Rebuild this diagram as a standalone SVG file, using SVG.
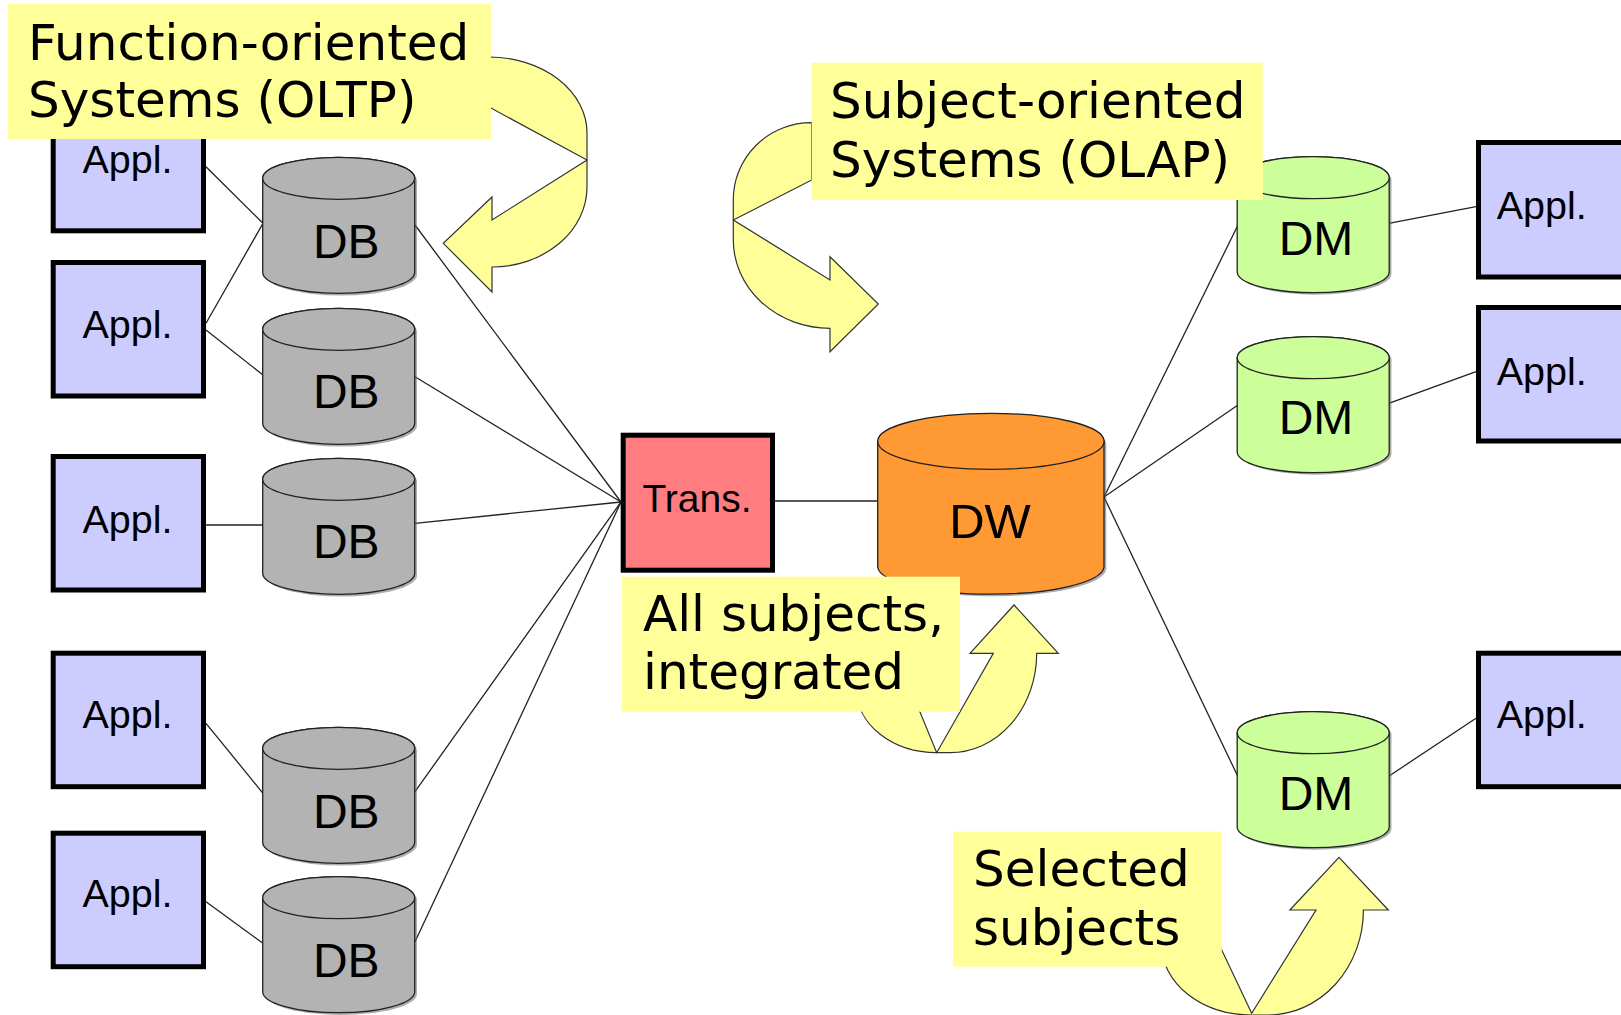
<svg xmlns="http://www.w3.org/2000/svg" xmlns:xlink="http://www.w3.org/1999/xlink" width="1621" height="1015" viewBox="0 0 1621 1015">
<style>
.appl{fill:#CCCCFF;stroke:#000;stroke-width:5}
.trans{fill:#FF7C80;stroke:#000;stroke-width:5}
.db{fill:#B3B3B3;stroke:#222;stroke-width:1.3}
.dm{fill:#CCFF99;stroke:#222;stroke-width:1.3}
.dw{fill:#FF9933;stroke:#222;stroke-width:1.3}
.shadow{fill:#6a6a6a;opacity:0.55;stroke:none}
.conn line{stroke:#222;stroke-width:1.3}
.arrow{fill:#FFFF99;stroke:#333;stroke-width:1.2;stroke-linejoin:miter}
.label{fill:#FFFF99}
.lt{font-family:"DejaVu Sans",Verdana,sans-serif;font-size:50px;fill:#000}
.at{font-family:"Liberation Sans",Arial,sans-serif;font-size:39.5px;fill:#000}
.ct{font-family:"Liberation Sans",Arial,sans-serif;font-size:48px;fill:#000;text-anchor:middle}
.tt{font-family:"Liberation Sans",Arial,sans-serif;font-size:39px;fill:#000;text-anchor:middle}
</style>
<defs>
<g id="cyl">
<path d="M0,21 V115 A76 21 0 0 0 152,115 V21 A76 21 0 0 0 0,21 Z"/>
<ellipse cx="76" cy="21" rx="76" ry="21"/>
</g>
<path id="cylshadow" d="M0,21 V115 A76 21 0 0 0 152,115 V21 A76 21 0 0 0 0,21 Z"/>
</defs>
<rect width="1621" height="1015" fill="#fff"/>

<g id="connectors" class="conn">
<line x1="206" y1="166.7" x2="263" y2="223.3"/>
<line x1="206" y1="323.3" x2="263" y2="223.3"/>
<line x1="206" y1="330" x2="263" y2="375"/>
<line x1="206" y1="525" x2="263" y2="525"/>
<line x1="206" y1="723.3" x2="263" y2="793.3"/>
<line x1="206" y1="901.7" x2="263" y2="943.3"/>
<line x1="415" y1="225" x2="621" y2="502"/>
<line x1="415" y1="376.7" x2="621" y2="502"/>
<line x1="415" y1="523.3" x2="621" y2="502"/>
<line x1="415" y1="791.7" x2="621" y2="502"/>
<line x1="415" y1="941.7" x2="621" y2="502"/>
<line x1="775" y1="501" x2="878" y2="501"/>
<line x1="1104" y1="497" x2="1238" y2="225"/>
<line x1="1104" y1="497" x2="1238" y2="405"/>
<line x1="1104" y1="497" x2="1238" y2="776.7"/>
<line x1="1388.7" y1="223.3" x2="1476" y2="206.7"/>
<line x1="1388.7" y1="403.3" x2="1476" y2="371.7"/>
<line x1="1388" y1="776.7" x2="1476" y2="718.3"/>
</g>

<g id="appl1"><rect class="appl" x="53.2" y="97.3" width="150.3" height="133.5"/><text class="at" x="82.5" y="173.3">Appl.</text></g>
<g id="appl2"><rect class="appl" x="53.2" y="262.5" width="150.3" height="133.5"/><text class="at" x="82.5" y="338.3">Appl.</text></g>
<g id="appl3"><rect class="appl" x="53.2" y="456.5" width="150.3" height="133.5"/><text class="at" x="82.5" y="533.3">Appl.</text></g>
<g id="appl4"><rect class="appl" x="53.2" y="653.2" width="150.3" height="133.5"/><text class="at" x="82.5" y="728.3">Appl.</text></g>
<g id="appl5"><rect class="appl" x="53.2" y="833.2" width="150.3" height="133.5"/><text class="at" x="82.5" y="907.3">Appl.</text></g>

<g id="db1"><use xlink:href="#cylshadow" class="shadow" transform="translate(265,159.5)"/><use xlink:href="#cyl" class="db" transform="translate(262.7,157.3)"/><text class="ct" x="346.3" y="258.3">DB</text></g>
<g id="db2"><use xlink:href="#cylshadow" class="shadow" transform="translate(265,310.5)"/><use xlink:href="#cyl" class="db" transform="translate(262.7,308.3)"/><text class="ct" x="346.3" y="408.3">DB</text></g>
<g id="db3"><use xlink:href="#cylshadow" class="shadow" transform="translate(265,460.5)"/><use xlink:href="#cyl" class="db" transform="translate(262.7,458.3)"/><text class="ct" x="346.3" y="558.3">DB</text></g>
<g id="db4"><use xlink:href="#cylshadow" class="shadow" transform="translate(265,729.5)"/><use xlink:href="#cyl" class="db" transform="translate(262.7,727.3)"/><text class="ct" x="346.3" y="828.3">DB</text></g>
<g id="db5"><use xlink:href="#cylshadow" class="shadow" transform="translate(265,878.9)"/><use xlink:href="#cyl" class="db" transform="translate(262.7,876.7)"/><text class="ct" x="346.3" y="977.3">DB</text></g>

<g id="trans"><rect class="trans" x="623.2" y="435.2" width="149.3" height="135"/><text class="tt" x="697" y="511.7">Trans.</text></g>

<g id="dw">
<path class="shadow" d="M880,443.5 V569.2 A113.2 28 0 0 0 1106.3,569.2 V443.5 A113.2 28 0 0 0 880,443.5 Z"/>
<path class="dw" d="M877.7,441.3 V567 A113.2 28 0 0 0 1104,567 V441.3 A113.2 28 0 0 0 877.7,441.3 Z"/>
<ellipse class="dw" cx="990.9" cy="441.3" rx="113.2" ry="28"/>
<text class="ct" x="990" y="538" style="font-size:49px">DW</text>
</g>

<g id="dm1"><use xlink:href="#cylshadow" class="shadow" transform="translate(1239.5,158.7)"/><use xlink:href="#cyl" class="dm" transform="translate(1237.2,156.7)"/><text class="ct" x="1316" y="255">DM</text></g>
<g id="dm2"><use xlink:href="#cylshadow" class="shadow" transform="translate(1239.5,338.7)"/><use xlink:href="#cyl" class="dm" transform="translate(1237.2,336.7)"/><text class="ct" x="1316" y="434.3">DM</text></g>
<g id="dm3"><use xlink:href="#cylshadow" class="shadow" transform="translate(1239.5,713.7)"/><use xlink:href="#cyl" class="dm" transform="translate(1237.2,711.7)"/><text class="ct" x="1316" y="810">DM</text></g>

<g id="applR1"><rect class="appl" x="1478.5" y="142.5" width="150.3" height="134.5"/><text class="at" x="1496.7" y="219.3">Appl.</text></g>
<g id="applR2"><rect class="appl" x="1478.5" y="307.5" width="150.3" height="133.5"/><text class="at" x="1496.7" y="385">Appl.</text></g>
<g id="applR3"><rect class="appl" x="1478.5" y="653.2" width="150.3" height="133.5"/><text class="at" x="1496.7" y="728.3">Appl.</text></g>

<g id="arrow-oltp"><path class="arrow" d="M489,57 A98 76 0 0 1 587,133 L587,187 A95 80 0 0 1 492,267 L492,292 L443.3,243.3 L492,197 L492,220 L587,160 L489,107 Z"/></g>
<g id="arrow-olap"><path class="arrow" d="M811.7,122.7 A78 77 0 0 0 733.3,200 L733.3,240 A96.7 88.3 0 0 0 830,328.3 L830,351.7 L878.3,304 L830,256.7 L830,280 L733.3,220 L811.7,180 Z"/></g>
<g id="arrow-all"><path class="arrow" d="M856.7,690 A80 62.7 0 0 0 936.7,752.7 L950,752.7 A86.7 99.4 0 0 0 1036.7,653.3 L1058.3,653.3 L1014,605 L970,653.3 L993.3,653.3 L936.7,752.7 L911,690 Z"/></g>
<g id="arrow-sel"><path class="arrow" d="M1161.7,945 A90 70 0 0 0 1251.7,1015 L1268,1015 A95.4 105 0 0 0 1363.4,910 L1388.3,910 L1339,857.3 L1289.9,910 L1316,910 L1251.7,1013.3 L1219.4,945 Z"/></g>

<g id="label-oltp"><rect class="label" x="8" y="4" width="483" height="135"/><text class="lt" x="28" y="60">Function-oriented</text><text class="lt" x="28" y="117">Systems (OLTP)</text></g>
<g id="label-olap"><rect class="label" x="811.6" y="62.7" width="451.2" height="137.3"/><text class="lt" x="830" y="118.3">Subject-oriented</text><text class="lt" x="830" y="176.7">Systems (OLAP)</text></g>
<g id="label-all"><rect class="label" x="621.7" y="576.7" width="338.3" height="135"/><text class="lt" x="643" y="631">All subjects,</text><text class="lt" x="643" y="689">integrated</text></g>
<g id="label-sel"><rect class="label" x="952.9" y="831.7" width="268.9" height="135"/><text class="lt" x="973" y="886">Selected</text><text class="lt" x="973" y="945">subjects</text></g>
</svg>
